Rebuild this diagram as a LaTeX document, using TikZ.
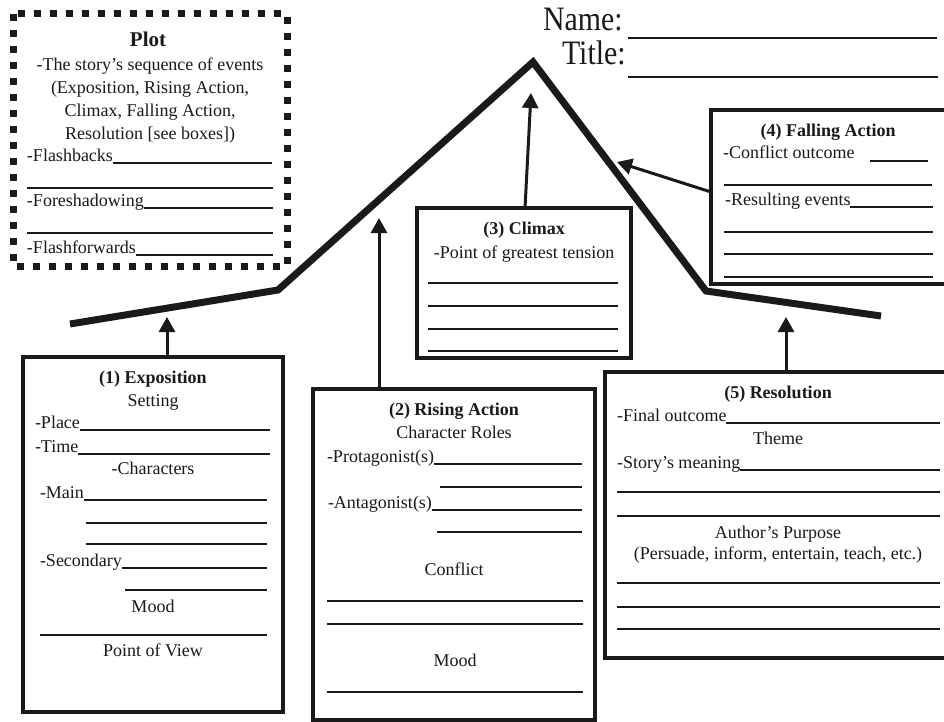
\documentclass[tikz,border=0pt]{standalone}
\usepackage{fontspec}
\setmainfont{Liberation Serif}
\usetikzlibrary{arrows.meta}
\definecolor{ink}{HTML}{1A1A1A}
\begin{document}
\begin{tikzpicture}[x=1pt,y=-1pt,
  txt/.style={font=\fontsize{18}{20}\selectfont, inner sep=0pt, outer sep=0pt, text=ink},
  ttl/.style={font=\fontsize{18}{20}\selectfont\bfseries, inner sep=0pt, outer sep=0pt, text=ink},
  big/.style={font=\fontsize{29}{30}\selectfont, inner sep=0pt, outer sep=0pt, text=ink},
  box/.style={draw=ink, line width=4pt, inner sep=0pt, outer sep=0pt, anchor=north west, fill=white},
  wl/.style={draw=ink, line width=1.1pt},
  arr/.style={draw=ink, line width=3pt, -{Triangle[width=16pt,length=15pt]}},
  mount/.style={draw=ink, line width=7pt, line join=miter}]
\clip (0,0) rectangle (944,722);
\fill[white] (0,0) rectangle (944,722);

% mountain
\coordinate (m0) at (70,324);
\coordinate (m1) at (278,290);
\coordinate (m2) at (533,62);
\coordinate (m3) at (706,291);
\coordinate (m4) at (881,316);
\draw[mount] (m0) -- (m1) -- (m2) -- (m3) -- (m4);

% arrow tips on the plot line
\coordinate (t1) at (167,317);
\coordinate (t2) at (379,218);
\coordinate (t3) at (531,93);
\coordinate (t4) at (617,162);
\coordinate (t5) at (786,317);

% Plot box
\draw[draw=ink, line width=7pt, dash pattern=on 7pt off 9pt] (13,14) rectangle (287,266);
\node[font=\fontsize{21}{24}\selectfont\bfseries, text=ink, inner sep=0pt, anchor=base] (plot) at (148,47) {Plot};
\node[txt, anchor=base] (p1) at (150,71) {-The story's sequence of events};
\node[txt, anchor=base] (p2) at (150,94) {(Exposition, Rising Action,};
\node[txt, anchor=base] (p3) at (150,117) {Climax, Falling Action,};
\node[txt, anchor=base] (p4) at (150,140) {Resolution [see boxes])};
\node[txt, anchor=base west] (fb) at (27,161) {-Flashbacks};
\draw[wl] ([yshift=-2pt]fb.base east) -- ([yshift=-2pt]fb.base east -| 272,0);
\draw[wl] (27,188) -- (273,188);
\node[txt, anchor=base west] (fs) at (27,206) {-Foreshadowing};
\draw[wl] ([yshift=-2pt]fs.base east) -- ([yshift=-2pt]fs.base east -| 273,0);
\draw[wl] (27,233) -- (273,233);
\node[txt, anchor=base west] (ff) at (27,253) {-Flashforwards};
\draw[wl] ([yshift=-2pt]ff.base east) -- ([yshift=-2pt]ff.base east -| 273,0);

% Name / Title
\node[big, anchor=base west] (name) at (543,31) {\scalebox{1.03}[1.18]{Name:}};
\draw[wl] (628,38) -- (937,38);
\node[big, anchor=base west] (title) at (562,65) {\scalebox{1.03}[1.18]{Title:}};
\draw[wl] (628,77) -- (938,77);

% (1) Exposition
\node[box, minimum width=260pt, minimum height=355pt] (expo) at (23,357) {};
\node[ttl, anchor=base] (e0) at (153,383) {(1) Exposition};
\node[txt, anchor=base] (e1) at (153,406) {Setting};
\node[txt, anchor=base west] (place) at (35,428) {-Place};
\draw[wl] ([yshift=-2pt]place.base east) -- ([yshift=-2pt]place.base east -| 270,0);
\node[txt, anchor=base west] (time) at (35,452) {-Time};
\draw[wl] ([yshift=-2pt]time.base east) -- ([yshift=-2pt]time.base east -| 270,0);
\node[txt, anchor=base] (chars) at (153,474) {-Characters};
\node[txt, anchor=base west] (main) at (40,498) {-Main};
\draw[wl] ([yshift=-2pt]main.base east) -- ([yshift=-2pt]main.base east -| 267,0);
\draw[wl] (86,523) -- (267,523);
\draw[wl] (86,544) -- (267,544);
\node[txt, anchor=base west] (sec) at (40,566) {-Secondary};
\draw[wl] ([yshift=-2pt]sec.base east) -- ([yshift=-2pt]sec.base east -| 267,0);
\draw[wl] (125,590) -- (267,590);
\node[txt, anchor=base] (emood) at (153,612) {Mood};
\draw[wl] (40,635) -- (267,635);
\node[txt, anchor=base] (pov) at (153,656) {Point of View};

% (2) Rising Action
\node[box, minimum width=282pt, minimum height=331pt] (rise) at (313,389) {};
\node[ttl, anchor=base] (r0) at (454,415) {(2) Rising Action};
\node[txt, anchor=base] (r1) at (454,438) {Character Roles};
\node[txt, anchor=base west] (prot) at (327,462) {-Protagonist(s)};
\draw[wl] ([yshift=-2pt]prot.base east) -- ([yshift=-2pt]prot.base east -| 582,0);
\draw[wl] (440,487) -- (582,487);
\node[txt, anchor=base west] (ant) at (328,508) {-Antagonist(s)};
\draw[wl] ([yshift=-2pt]ant.base east) -- ([yshift=-2pt]ant.base east -| 582,0);
\draw[wl] (437,532) -- (582,532);
\node[txt, anchor=base] (confl) at (454,575) {Conflict};
\draw[wl] (327,601) -- (583,601);
\draw[wl] (327,624) -- (583,624);
\node[txt, anchor=base] (rmood) at (455,666) {Mood};
\draw[wl] (327,692) -- (583,692);

% (3) Climax
\node[box, minimum width=214pt, minimum height=150pt] (climax) at (417,208) {};
\node[ttl, anchor=base] (c0) at (524,234) {(3) Climax};
\node[txt, anchor=base] (c1) at (524,258) {-Point of greatest tension};
\draw[wl] (428,283) -- (618,283);
\draw[wl] (428,306) -- (618,306);
\draw[wl] (428,329) -- (618,329);
\draw[wl] (428,351) -- (618,351);

% (4) Falling Action
\node[box, minimum width=260pt, minimum height=174pt] (fall) at (711,110) {};
\node[ttl, anchor=base] (f0) at (828,137) {(4) Falling Action};
\node[txt, anchor=base west] (co) at (723,159) {-Conflict outcome};
\draw[wl] (870,161) -- (928,161);
\draw[wl] (724,185) -- (932,185);
\node[txt, anchor=base west] (re) at (725,205) {-Resulting events};
\draw[wl] ([yshift=-2pt]re.base east) -- ([yshift=-2pt]re.base east -| 933,0);
\draw[wl] (724,232) -- (933,232);
\draw[wl] (724,254) -- (933,254);
\draw[wl] (724,277) -- (933,277);

% (5) Resolution
\node[box, minimum width=360pt, minimum height=286pt] (reso) at (605,372) {};
\node[ttl, anchor=base] (s0) at (778,398) {(5) Resolution};
\node[txt, anchor=base west] (fo) at (617,421) {-Final outcome};
\draw[wl] ([yshift=-2pt]fo.base east) -- ([yshift=-2pt]fo.base east -| 940,0);
\node[txt, anchor=base] (theme) at (778,444) {Theme};
\node[txt, anchor=base west] (sm) at (617,468) {-Story's meaning};
\draw[wl] ([yshift=-2pt]sm.base east) -- ([yshift=-2pt]sm.base east -| 940,0);
\draw[wl] (617,492) -- (940,492);
\draw[wl] (617,516) -- (940,516);
\node[txt, anchor=base] (ap) at (778,538) {Author's Purpose};
\node[txt, anchor=base] (pie) at (778,559) {(Persuade, inform, entertain, teach, etc.)};
\draw[wl] (617,583) -- (940,583);
\draw[wl] (617,607) -- (940,607);
\draw[wl] (617,629) -- (940,629);

% arrows from boxes to the plot line
\draw[arr] (expo.north -| 167,0) -- (t1);
\draw[arr] (rise.north -| 379,0) -- (t2);
\draw[arr] (climax.north -| 525,0) -- (t3);
\draw[arr] (fall.west |- 0,192) -- (t4);
\draw[arr] (reso.north -| 786,0) -- (t5);
\end{tikzpicture}
\end{document}
